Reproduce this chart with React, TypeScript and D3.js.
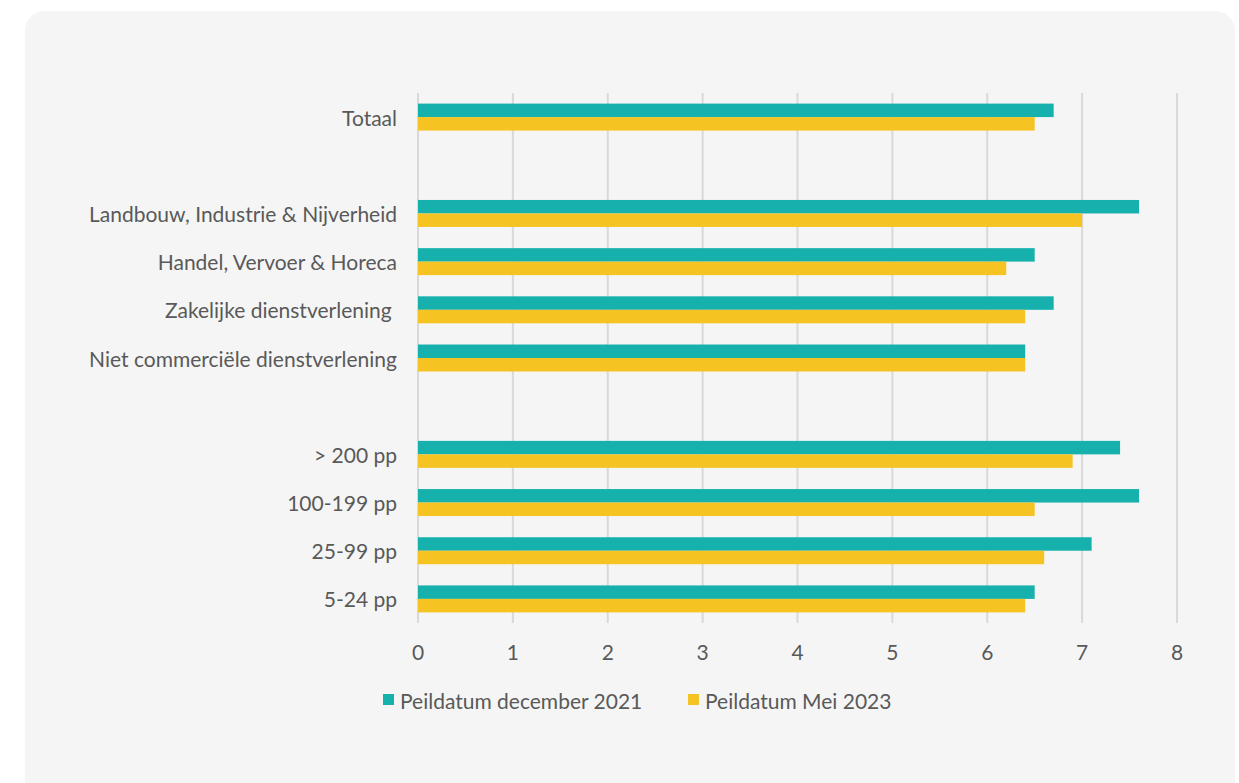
import React from "react";
import * as d3 from "d3";

const categories = [
  "Totaal",
  "",
  "Landbouw, Industrie & Nijverheid",
  "Handel, Vervoer & Horeca",
  "Zakelijke dienstverlening ",
  "Niet commerciële dienstverlening",
  " ",
  "> 200 pp",
  "100-199 pp",
  "25-99 pp",
  "5-24 pp",
];
const seriesDec2021 = [6.7, null, 7.6, 6.5, 6.7, 6.4, null, 7.4, 7.6, 7.1, 6.5];
const seriesMei2023 = [6.5, null, 7.0, 6.2, 6.4, 6.4, null, 6.9, 6.5, 6.6, 6.4];
const seriesNames = ["Peildatum december 2021", "Peildatum Mei 2023"];
const seriesColors = ["#16B1AC", "#F5C322"];
const xTicks = [0, 1, 2, 3, 4, 5, 6, 7, 8];

const W = 1239;
const H = 783;
const FONT = "Lato, 'Noto Sans', sans-serif";
const TEXT = "#595959";
const FS = 21;

export default function App() {
  const x = d3.scaleLinear().domain([0, 8]).range([418, 1177]);
  const y = d3
    .scaleBand<number>()
    .domain(categories.map((_, i) => i))
    .range([93, 623])
    .paddingInner(0.44)
    .paddingOuter(0.22);
  const inner = d3
    .scaleBand<number>()
    .domain([0, 1])
    .range([0, y.bandwidth()]);
  const series = [seriesDec2021, seriesMei2023];

  return (
    <svg
      width={W}
      height={H}
      style={{ position: "absolute", left: 0, top: 0, display: "block" }}
    >
      <rect x={0} y={0} width={W} height={H} fill="#ffffff" />
      <rect x={25} y={11} width={1210} height={800} rx={20} ry={20} fill="#F5F5F5" />
      {xTicks.map((t) => (
        <line
          key={"g" + t}
          x1={x(t)}
          x2={x(t)}
          y1={93}
          y2={623}
          stroke="#D9D9D9"
          strokeWidth={2}
        />
      ))}
      {series.map((vals, si) =>
        vals.map((v, i) =>
          v == null ? null : (
            <rect
              key={`b${si}-${i}`}
              x={x(0)}
              y={(y(i) as number) + (inner(si) as number)}
              width={x(v) - x(0)}
              height={inner.bandwidth()}
              fill={seriesColors[si]}
            />
          )
        )
      )}
      {categories.map((c, i) =>
        c.trim() === "" ? null : (
          <text
            key={"c" + i}
            x={397}
            y={(y(i) as number) + y.bandwidth() / 2}
            textAnchor="end"
            dominantBaseline="central"
            fontFamily={FONT}
            fontSize={FS}
            fill={TEXT}
            style={{ whiteSpace: "pre" }}
          >
            {c}
          </text>
        )
      )}
      {xTicks.map((t) => (
        <text
          key={"t" + t}
          x={x(t)}
          y={651}
          textAnchor="middle"
          dominantBaseline="central"
          fontFamily={FONT}
          fontSize={FS}
          fill={TEXT}
        >
          {t}
        </text>
      ))}
      {seriesNames.map((n, i) => {
        const lx = [383, 688][i];
        return (
          <g key={"l" + i}>
            <rect x={lx} y={694} width={11} height={11} fill={seriesColors[i]} />
            <text
              x={lx + 17}
              y={700}
              dominantBaseline="central"
              fontFamily={FONT}
              fontSize={FS}
              fill={TEXT}
            >
              {n}
            </text>
          </g>
        );
      })}
    </svg>
  );
}
